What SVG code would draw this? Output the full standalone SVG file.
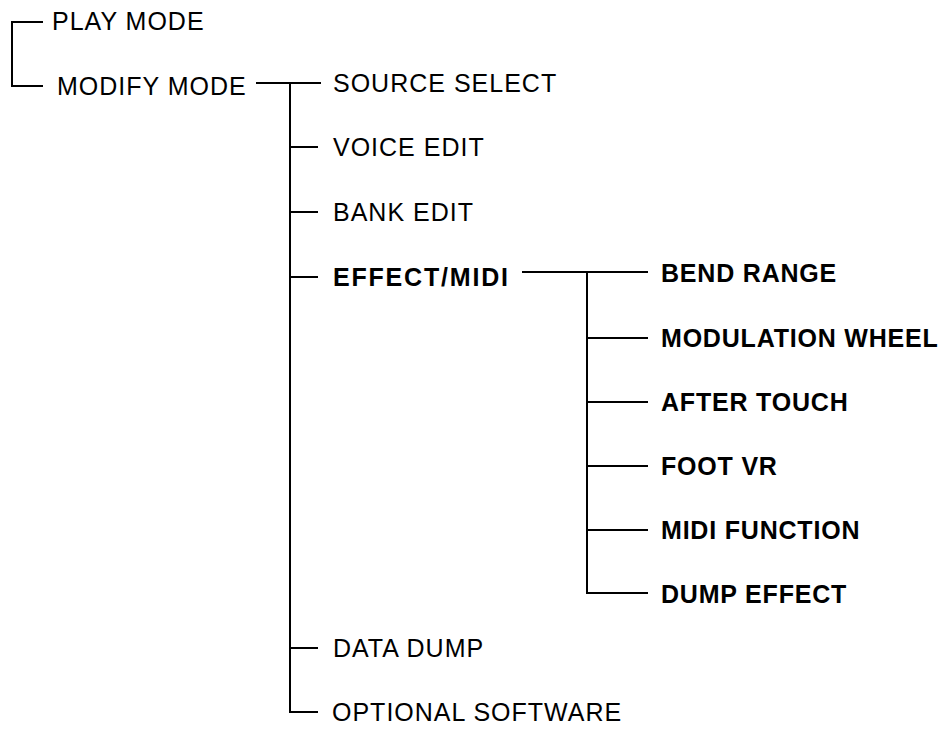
<svg xmlns="http://www.w3.org/2000/svg" width="950" height="741" viewBox="0 0 950 741">
<style>
.r{font-family:"Liberation Sans",Arial,sans-serif;font-size:25px;letter-spacing:1px;fill:#000}
.b{font-family:"Liberation Sans",Arial,sans-serif;font-size:25px;font-weight:bold;letter-spacing:0.8px;fill:#000}
.c line,.c polyline{stroke:#000;stroke-width:2;fill:none}
</style>
<rect width="950" height="741" fill="#fff"/>
<g class="c" id="connectors">
<polyline points="43,22 12,22 12,86 43,86"/>
<line x1="256" y1="83" x2="321" y2="83"/>
<polyline points="290,83 290,712 318,712"/>
<line x1="290" y1="147" x2="318" y2="147"/>
<line x1="290" y1="212" x2="318" y2="212"/>
<line x1="290" y1="277" x2="318" y2="277"/>
<line x1="290" y1="648" x2="318" y2="648"/>
<line x1="522" y1="272" x2="648" y2="272"/>
<polyline points="587,272 587,593 648,593"/>
<line x1="587" y1="338" x2="648" y2="338"/>
<line x1="587" y1="402" x2="648" y2="402"/>
<line x1="587" y1="466" x2="648" y2="466"/>
<line x1="587" y1="530" x2="648" y2="530"/>
</g>
<g id="play-mode"><text class="r" x="52" y="30">PLAY MODE</text></g>
<g id="modify-mode"><text class="r" x="57" y="95">MODIFY MODE</text></g>
<g id="source-select"><text class="r" x="333" y="92">SOURCE SELECT</text></g>
<g id="voice-edit"><text class="r" x="333" y="156">VOICE EDIT</text></g>
<g id="bank-edit"><text class="r" x="333" y="221">BANK EDIT</text></g>
<g id="effect-midi"><text class="b" x="333" y="286" style="letter-spacing:1.8px">EFFECT/MIDI</text></g>
<g id="data-dump"><text class="r" x="333" y="657">DATA DUMP</text></g>
<g id="optional-software"><text class="r" x="332" y="721">OPTIONAL SOFTWARE</text></g>
<g id="bend-range"><text class="b" x="661" y="282">BEND RANGE</text></g>
<g id="modulation-wheel"><text class="b" x="661" y="347">MODULATION WHEEL</text></g>
<g id="after-touch"><text class="b" x="661" y="411">AFTER TOUCH</text></g>
<g id="foot-vr"><text class="b" x="661" y="475">FOOT VR</text></g>
<g id="midi-function"><text class="b" x="661" y="539">MIDI FUNCTION</text></g>
<g id="dump-effect"><text class="b" x="661" y="603">DUMP EFFECT</text></g>
</svg>
